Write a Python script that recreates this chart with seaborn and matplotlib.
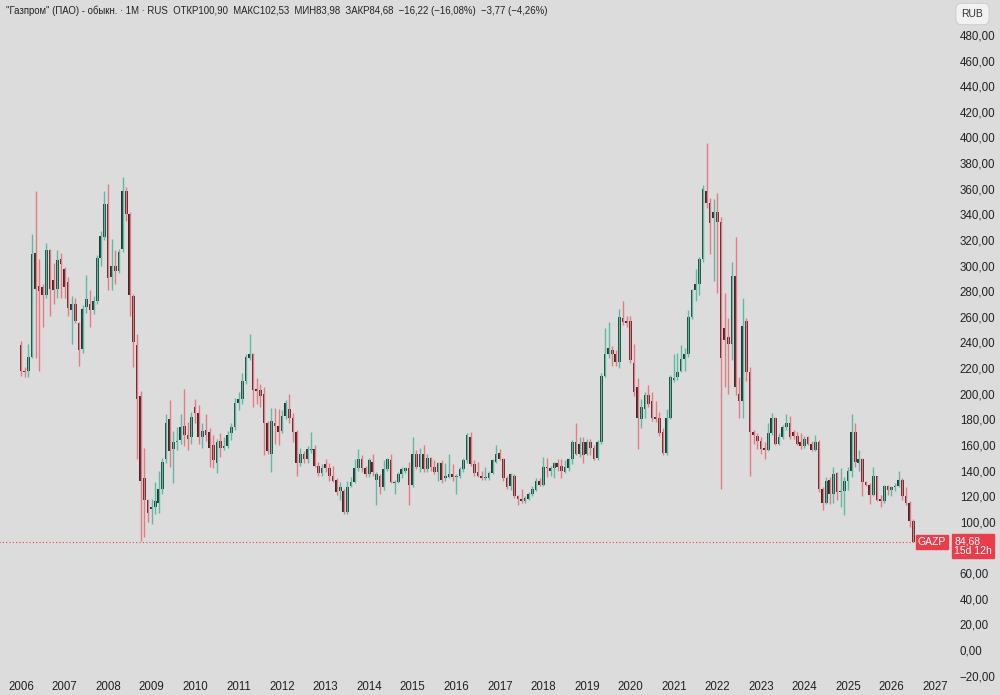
import numpy as np
import pandas as pd
import matplotlib
matplotlib.use("Agg")
import matplotlib.pyplot as plt
import seaborn as sns

# Месячные свечи GAZP, янв 2006 - июл 2026 (по строке на год)
opens = [
    238, 218, 218, 229, 310, 284, 283, 277, 312, 289, 282, 305,  # 2006
    297, 287, 265, 270, 255, 235, 268, 270, 265, 272, 306, 322,  # 2007
    348, 291, 300, 296, 313, 358, 340, 276, 238, 198, 134, 117,  # 2008
    110, 112, 115, 126, 149, 180, 157, 162, 164, 175, 168, 166,  # 2009
    190, 185, 166, 172, 170, 160, 146, 163, 158, 159, 169, 174,  # 2010
    193, 196, 210, 228, 231, 204, 203, 200, 177, 153, 177, 175,  # 2011
    171, 183, 188, 181, 170, 146, 153, 149, 156, 157, 144, 138,  # 2012
    145, 142, 136, 133, 124, 124, 108, 128, 131, 142, 149, 142,  # 2013
    137, 147, 133, 136, 127, 141, 148, 130, 131, 137, 140, 142,  # 2014
    129, 153, 143, 153, 141, 150, 143, 139, 146, 134, 135, 137,  # 2015
    135, 136, 141, 148, 166, 145, 139, 136, 134, 134, 138, 147,  # 2016
    154, 149, 134, 128, 136, 120, 118, 116, 118, 122, 125, 132,  # 2017
    129, 143, 140, 142, 146, 144, 139, 142, 149, 162, 153, 162,  # 2018
    153, 162, 158, 150, 162, 214, 231, 234, 231, 225, 259, 257,  # 2019
    257, 224, 205, 180, 188, 199, 194, 182, 181, 170, 154, 181,  # 2020
    211, 213, 218, 227, 231, 260, 281, 286, 305, 358, 349, 337,  # 2021
    342, 334, 251, 244, 239, 292, 200, 194, 257, 217, 170, 167,  # 2022
    163, 158, 156, 169, 181, 161, 166, 174, 177, 170, 167, 162,  # 2023
    159, 166, 161, 156, 162, 126, 115, 133, 122, 138, 123, 124,  # 2024
    132, 140, 170, 146, 149, 131, 129, 121, 136, 118, 116, 128,  # 2025
    125, 127, 128, 133, 120, 115, 100.90,                        # 2026
]
highs = [
    241, 221, 239, 325, 358, 305, 286, 318, 313, 302, 312, 310,
    299, 291, 276, 275, 256, 269, 293, 281, 276, 308, 327, 358,
    364, 321, 312, 313, 369, 361, 342, 278, 247, 202, 158, 118,
    118, 131, 140, 150, 184, 195, 171, 174, 184, 204, 178, 186,
    196, 191, 177, 184, 173, 168, 165, 169, 166, 171, 177, 197,
    201, 216, 231, 247, 232, 212, 208, 205, 179, 189, 189, 188,
    187, 195, 200, 185, 172, 158, 155, 159, 170, 160, 147, 145,
    149, 146, 144, 134, 131, 126, 132, 135, 149, 157, 152, 144,
    150, 153, 139, 137, 148, 150, 153, 133, 139, 143, 143, 147,
    166, 156, 158, 160, 153, 151, 148, 147, 148, 146, 153, 145,
    137, 143, 150, 169, 170, 148, 147, 140, 143, 140, 149, 160,
    157, 150, 136, 138, 137, 121, 126, 120, 123, 128, 134, 134,
    151, 150, 144, 147, 149, 149, 148, 150, 164, 177, 166, 166,
    165, 165, 160, 164, 216, 251, 256, 237, 234, 266, 272, 261,
    261, 239, 212, 196, 201, 207, 201, 194, 186, 173, 188, 215,
    231, 232, 238, 236, 265, 282, 297, 307, 363, 396, 353, 352,
    357, 338, 279, 259, 303, 322, 213, 275, 259, 221, 172, 169,
    166, 162, 177, 185, 182, 169, 176, 184, 183, 172, 170, 169,
    167, 167, 163, 168, 164, 127, 135, 135, 143, 139, 142, 135,
    143, 184, 177, 156, 150, 132, 130, 143, 136, 121, 129, 129,
    128, 130, 140, 134, 127, 116, 102.53,
]
lows = [
    214, 213, 213, 228, 228, 218, 252, 275, 261, 270, 275, 275,
    275, 261, 239, 255, 222, 232, 263, 252, 262, 270, 300, 320,
    281, 281, 286, 294, 311, 335, 261, 221, 149, 85, 88, 100,
    98, 106, 107, 122, 146, 143, 130, 156, 161, 159, 156, 161,
    177, 161, 158, 163, 143, 142, 138, 151, 156, 158, 164, 172,
    187, 192, 208, 226, 190, 192, 190, 152, 153, 139, 161, 160,
    169, 180, 177, 162, 136, 144, 146, 146, 154, 143, 136, 136,
    139, 132, 131, 121, 117, 106, 106, 127, 130, 140, 139, 135,
    135, 136, 113, 122, 125, 140, 130, 122, 130, 134, 138, 113,
    127, 141, 139, 139, 139, 140, 137, 132, 130, 132, 134, 132,
    122, 134, 139, 146, 144, 136, 135, 133, 133, 133, 137, 146,
    148, 132, 126, 125, 119, 113, 115, 115, 117, 120, 124, 128,
    128, 135, 136, 134, 140, 134, 138, 140, 145, 152, 151, 146,
    152, 152, 148, 148, 161, 213, 228, 222, 222, 220, 254, 252,
    224, 198, 157, 173, 181, 190, 179, 178, 167, 152, 152, 180,
    209, 211, 217, 218, 229, 258, 272, 277, 303, 345, 309, 288,
    279, 126, 205, 200, 226, 199, 181, 181, 210, 136, 161, 157,
    153, 149, 155, 168, 160, 160, 165, 172, 165, 165, 160, 157,
    158, 160, 155, 155, 123, 109, 114, 114, 115, 117, 112, 105,
    125, 135, 143, 140, 120, 128, 114, 120, 116, 112, 115, 121,
    120, 124, 127, 117, 113, 96, 83.98,
]
closes = [
    218, 217, 229, 309, 282, 280, 277, 312, 282, 281, 304, 301,
    283, 267, 270, 257, 234, 266, 274, 265, 272, 306, 323, 348,
    290, 300, 296, 311, 358, 340, 277, 240, 196, 132, 117, 107,
    112, 116, 126, 147, 177, 155, 162, 163, 174, 168, 165, 182,
    185, 166, 171, 168, 158, 148, 162, 158, 159, 168, 174, 193,
    196, 210, 229, 231, 203, 202, 198, 177, 155, 179, 175, 170,
    183, 193, 181, 170, 146, 153, 149, 157, 157, 144, 138, 142,
    142, 136, 132, 123, 127, 108, 127, 131, 142, 149, 142, 137,
    148, 139, 137, 127, 141, 149, 131, 131, 137, 141, 142, 129,
    153, 143, 153, 141, 150, 143, 139, 146, 133, 136, 137, 135,
    136, 141, 148, 168, 145, 138, 136, 134, 135, 138, 148, 153,
    149, 134, 127, 137, 120, 118, 116, 119, 122, 126, 132, 129,
    143, 142, 142, 146, 143, 140, 143, 149, 162, 153, 161, 152,
    162, 158, 149, 162, 214, 231, 236, 231, 225, 260, 256, 255,
    226, 201, 181, 190, 199, 192, 181, 180, 169, 154, 181, 213,
    212, 217, 227, 231, 260, 281, 286, 305, 360, 349, 333, 342,
    334, 228, 242, 239, 292, 205, 194, 253, 217, 170, 168, 163,
    157, 156, 169, 181, 161, 166, 174, 177, 166, 167, 161, 159,
    165, 161, 156, 162, 126, 115, 132, 122, 137, 123, 124, 132,
    140, 170, 147, 149, 131, 129, 121, 136, 117, 116, 128, 125,
    127, 128, 133, 120, 115, 101, 84.68,
]
years = list(range(2006, 2028))
y_ticks = list(range(-20, 481, 20))
last_price = 84.68

BG = "#dcdcdc"
UP_BODY, UP_WICK = "#1f3b33", "#5dbba3"
DN_BODY, DN_WICK = "#4d2329", "#e57a82"
RED = "#ea3d4c"
TXT = "#222222"

df = pd.DataFrame({"open": opens, "high": highs, "low": lows, "close": closes})
df["i"] = np.arange(len(df))
df["up"] = df["close"] >= df["open"]
df["bottom"] = df[["open", "close"]].min(axis=1)
df["height"] = (df["close"] - df["open"]).abs().clip(lower=0.8)

sns.set_theme(style="white", rc={"axes.facecolor": BG, "figure.facecolor": BG})
plt.rcParams["font.family"] = ["Liberation Sans", "DejaVu Sans"]

fig = plt.figure(figsize=(10, 6.95), dpi=100)
ax = fig.add_axes([0, 15 / 695, 0.95, 680 / 695])

ax.vlines(df["i"], df["low"], df["high"],
          colors=np.where(df["up"], UP_WICK, DN_WICK), linewidth=1)
ax.bar(df["i"], df["height"], bottom=df["bottom"], width=0.74,
       color=np.where(df["up"], UP_BODY, DN_BODY), linewidth=0)

# линия текущей цены
ax.hlines(last_price, -6, len(df) + 1, colors=RED, linewidth=0.8,
          linestyles=(0, (1, 2)))

ax.set_xlim(-21 / 3.627, 929 / 3.627)
ax.set_ylim(-23.4, 507.3)
sns.despine(ax=ax, left=True, bottom=True, top=True, right=True)

ax.set_xticks([12 * k for k in range(len(years))])
ax.set_xticklabels([str(y) for y in years], fontsize=8.3, color=TXT)
ax.yaxis.tick_right()
ax.set_yticks(y_ticks)
# метка 80,00 закрыта плашкой текущей цены
ax.set_yticklabels(["" if v == 80 else f"{v:.2f}".replace(".", ",").replace("-", "−")
                    for v in y_ticks], fontsize=8.3, color=TXT)
ax.tick_params(axis="x", length=0, pad=1)
ax.tick_params(axis="y", length=0, pad=7)
ax.grid(False)

# заголовок
fig.text(0.006, 1 - 11 / 695,
         '"Газпром" (ПАО) - обыкн. · 1M · RUS  ОТКР100,90  МАКС102,53  '
         'МИН83,98  ЗАКР84,68  −16,22 (−16,08%)  −3,77 (−4,26%)',
         fontsize=6.9, color=TXT, va="center", ha="left")

# метка валюты
fig.text(0.9725, 1 - 14 / 695, "RUB", fontsize=7.5, color="#333333",
         ha="center", va="center",
         bbox=dict(boxstyle="round,pad=0.55", fc="#f2f2f2", ec="#c8c8c8", lw=0.6))

# метки цены справа
py = 1 - 542 / 695
fig.text(0.946, py, "GAZP", fontsize=7.5, color="white", ha="right", va="center",
         bbox=dict(boxstyle="square,pad=0.2", fc=RED, ec=RED))
fig.text(0.9545, py - 0.006, "84,68\n15d 12h", fontsize=7.5, color="white",
         ha="left", va="center", linespacing=1.0,
         bbox=dict(boxstyle="square,pad=0.2", fc=RED, ec=RED))

fig.savefig("out.png", dpi=100, facecolor=BG)
